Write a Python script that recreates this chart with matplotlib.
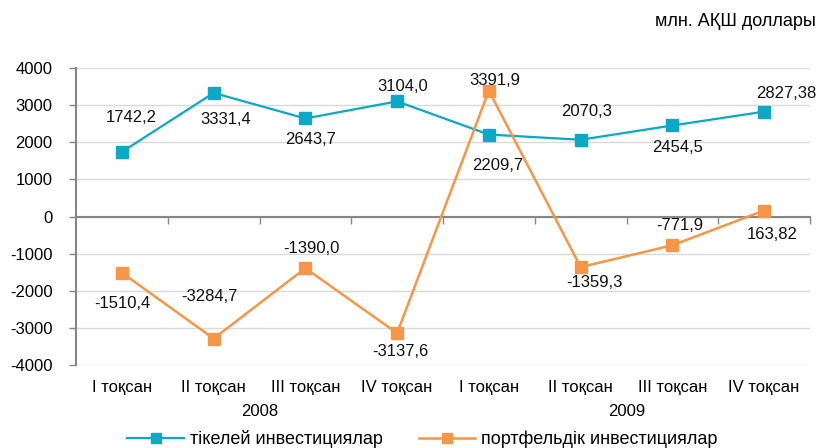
import matplotlib
matplotlib.use("Agg")
import matplotlib.pyplot as plt
from matplotlib.transforms import blended_transform_factory

plt.rcParams["font.family"] = ["Liberation Sans", "DejaVu Sans"]
plt.rcParams["axes.unicode_minus"] = False

quarters = ["I тоқсан", "II тоқсан", "III тоқсан", "IV тоқсан",
            "I тоқсан", "II тоқсан", "III тоқсан", "IV тоқсан"]
years = ["2008", "2009"]
direct = [1742.2, 3331.4, 2643.7, 3104.0, 2209.7, 2070.3, 2454.5, 2827.38]
portfolio = [-1510.4, -3284.7, -1390.0, -3137.6, 3391.9, -1359.3, -771.9, 163.82]
direct_txt = ["1742,2", "3331,4", "2643,7", "3104,0", "2209,7", "2070,3", "2454,5", "2827,38"]
portfolio_txt = ["-1510,4", "-3284,7", "-1390,0", "-3137,6", "3391,9", "-1359,3", "-771,9", "163,82"]

# label offsets in points (dx, dy), hand-placed to avoid the lines
direct_off = [(7, 25), (9, -19), (4, -15), (4, 11), (6, -22), (4, 20), (4, -16), (16, 13)]
portfolio_off = [(0, -22), (-3, 30), (4, 14), (2, -13), (4, 7), (10, -11), (5, 14), (6, -17)]

BLUE = "#0BA8C8"
ORANGE = "#F79646"

fig = plt.figure(figsize=(8.2, 4.48), dpi=100)
ax = fig.add_axes([0.0927, 0.185, 0.8951, 0.663])

x = list(range(len(quarters)))
ax.plot(x, direct, color=BLUE, lw=1.6, marker="s", ms=9, mec=BLUE, mfc=BLUE,
        label="тікелей инвестициялар", zorder=3)
ax.plot(x, portfolio, color=ORANGE, lw=1.8, marker="s", ms=9, mec=ORANGE, mfc=ORANGE,
        label="портфельдік инвестициялар", zorder=3)

for xi, v, t, (dx, dy) in zip(x, direct, direct_txt, direct_off):
    ax.annotate(t, (xi, v), xytext=(dx, dy), textcoords="offset points",
                ha="center", va="center", fontsize=12, color="#111111", zorder=4)
for xi, v, t, (dx, dy) in zip(x, portfolio, portfolio_txt, portfolio_off):
    ax.annotate(t, (xi, v), xytext=(dx, dy), textcoords="offset points",
                ha="center", va="center", fontsize=12, color="#111111", zorder=4)

ax.set_xlim(-0.5, len(quarters) - 0.5)
ax.set_ylim(-4000, 4000)
ax.set_yticks(range(-4000, 4001, 1000))
ax.yaxis.grid(True, color="#D9D9D9", lw=1)
ax.set_axisbelow(True)
ax.tick_params(axis="y", labelsize=12, length=5, width=1, color="#868686", pad=12)

# category axis crosses at zero, tick marks between quarters
ax.spines["bottom"].set_position(("data", 0))
ax.spines["bottom"].set_color("#868686")
ax.spines["bottom"].set_linewidth(1.5)
ax.set_xticks([i + 0.5 for i in range(len(quarters))])
ax.set_xticklabels([])
ax.tick_params(axis="x", length=5, width=1, color="#868686")
ax.spines["left"].set_color("#868686")
ax.spines["left"].set_linewidth(1.5)
ax.spines["top"].set_visible(False)
ax.spines["right"].set_visible(False)

trans = blended_transform_factory(ax.transData, ax.transAxes)
for xi, q in zip(x, quarters):
    ax.text(xi, -0.077, q, transform=trans, ha="center", va="center", fontsize=12)
for k, yr in enumerate(years):
    ax.text(k * 4 + 1.5, -0.157, yr, transform=trans, ha="center", va="center", fontsize=12)

fig.text(0.995, 0.952, "млн. АҚШ доллары", ha="right", va="center", fontsize=13)

fig.legend(loc="center", bbox_to_anchor=(0.515, 0.02), ncol=2, frameon=False,
           fontsize=13, handlelength=3.15, columnspacing=2.0, handletextpad=0.3,
           markerscale=0.8)

fig.savefig("out.png", dpi=100)
